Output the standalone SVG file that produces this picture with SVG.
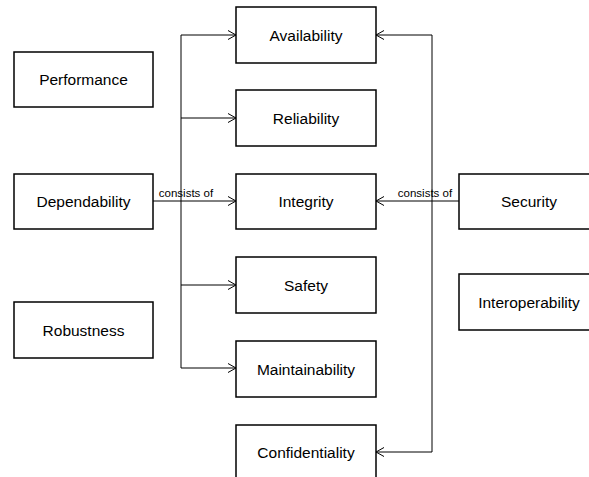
<svg xmlns="http://www.w3.org/2000/svg" width="589" height="477" viewBox="0 0 589 477">
<style>
.n rect{fill:#fff;stroke:#000;stroke-width:1.5}
.n text{font-family:"Liberation Sans",Arial,sans-serif;font-size:15.5px;text-anchor:middle;dominant-baseline:central;fill:#000}
.c path{fill:none;stroke:#000;stroke-width:1}
.lbl{font-family:"Liberation Sans",Arial,sans-serif;font-size:11.5px;text-anchor:middle;fill:#000}
</style>
<defs>
<marker id="a" viewBox="0 0 10 10" refX="9" refY="5" markerWidth="10" markerHeight="10" markerUnits="userSpaceOnUse" orient="auto">
<path d="M1,0.5 L9,5 L1,9.5" fill="none" stroke="#000" stroke-width="1"/>
</marker>
</defs>
<rect width="589" height="477" fill="#fff"/>
<g class="c" id="connectors">
<path d="M153,201 H236" marker-end="url(#a)"/>
<path d="M181,35 V368"/>
<path d="M181,35 H236" marker-end="url(#a)"/>
<path d="M181,118 H236" marker-end="url(#a)"/>
<path d="M181,285 H236" marker-end="url(#a)"/>
<path d="M181,368 H236" marker-end="url(#a)"/>
<path d="M459,201 H376" marker-end="url(#a)"/>
<path d="M432,35 V452"/>
<path d="M432,35 H376" marker-end="url(#a)"/>
<path d="M432,452 H376" marker-end="url(#a)"/>
<text class="lbl" x="186" y="197">consists of</text>
<text class="lbl" x="425" y="197">consists of</text>
</g>
<g class="n" id="performance"><rect x="14" y="52" width="139" height="55"/><text x="83.5" y="79.5">Performance</text></g>
<g class="n" id="dependability"><rect x="14" y="174" width="139" height="55"/><text x="83.5" y="201.5">Dependability</text></g>
<g class="n" id="robustness"><rect x="14" y="302" width="139" height="56"/><text x="83.5" y="330">Robustness</text></g>
<g class="n" id="availability"><rect x="236" y="7" width="140" height="56"/><text x="306" y="35">Availability</text></g>
<g class="n" id="reliability"><rect x="236" y="90" width="140" height="56"/><text x="306" y="118">Reliability</text></g>
<g class="n" id="integrity"><rect x="236" y="174" width="140" height="55"/><text x="306" y="201.5">Integrity</text></g>
<g class="n" id="safety"><rect x="236" y="257" width="140" height="56"/><text x="306" y="285">Safety</text></g>
<g class="n" id="maintainability"><rect x="236" y="341" width="140" height="56"/><text x="306" y="369">Maintainability</text></g>
<g class="n" id="confidentiality"><rect x="236" y="425" width="140" height="56"/><text x="306" y="452">Confidentiality</text></g>
<g class="n" id="security"><rect x="459" y="174" width="140" height="55"/><text x="529" y="201.5">Security</text></g>
<g class="n" id="interoperability"><rect x="459" y="274" width="140" height="56"/><text x="529" y="302">Interoperability</text></g>
</svg>
